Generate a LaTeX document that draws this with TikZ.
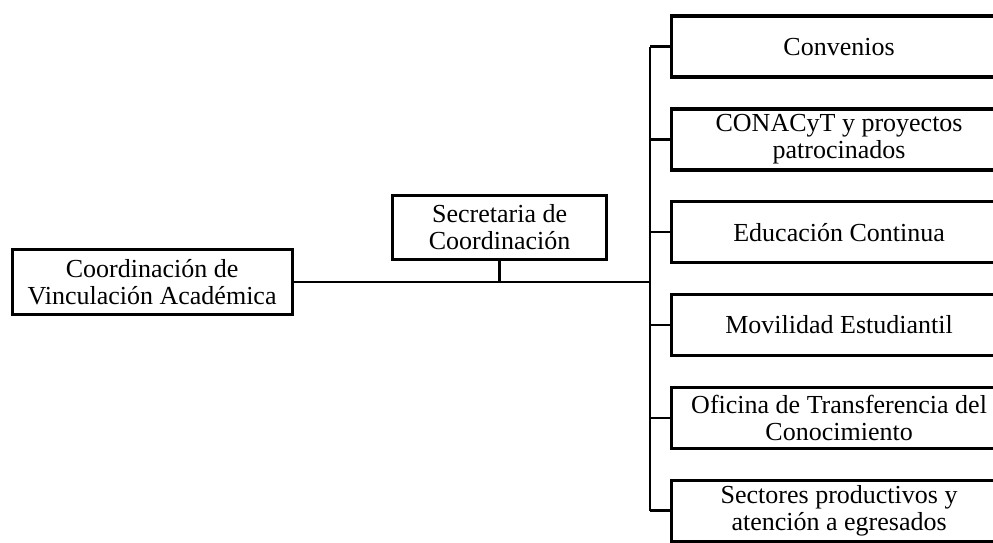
\documentclass[tikz,border=0pt]{standalone}
\usepackage{fontspec}
\setmainfont{Liberation Serif}
\usetikzlibrary{positioning, calc}

\begin{document}
\begin{tikzpicture}[
    x=1pt, y=-1pt,
    node distance=28.6pt,
    unit/.style={
        rectangle, draw=black, line width=3.2pt, fill=white,
        minimum height=61pt, align=center, inner sep=1pt,
        font=\fontsize{26}{27}\selectfont
    },
    area/.style={unit, minimum width=336pt},
    conn/.style={line width=2.4pt, black}
]
\useasboundingbox (0,0) rectangle (993,543);

% --- Head units ---
\node[unit, minimum width=280pt, minimum height=65pt, anchor=west]
      (cva) at (10.5,282) {Coordinación de\\Vinculación Académica};
\node[unit, minimum width=214pt, minimum height=64pt, anchor=north west]
      (sec) at (391,194) {Secretaria de\\Coordinación};
\coordinate (jn) at (650,282);

% --- Areas ---
\node[area, anchor=north west] (conv) at (669.5,14.5) {Convenios};
\node[area, below=of conv] (cona) {CONACyT y proyectos\\patrocinados};
\node[area, below=of cona] (educ) {Educación Continua};
\node[area, below=of educ] (movi) {Movilidad Estudiantil};
\node[area, below=of movi] (otc) {Oficina de Transferencia del\\Conocimiento};
\node[area, below=of otc] (sect) {Sectores productivos y\\atención a egresados};

% --- Connectors ---
\draw[conn] (cva.east) -- (jn);
\draw[conn] (sec.south) -- (sec.south |- jn);
\draw[conn] (conv.west -| jn) -- (sect.west -| jn);
\foreach \n in {conv, cona, educ, movi, otc, sect}
    \draw[conn] (\n.west) -- (\n.west -| jn);
\end{tikzpicture}
\end{document}
